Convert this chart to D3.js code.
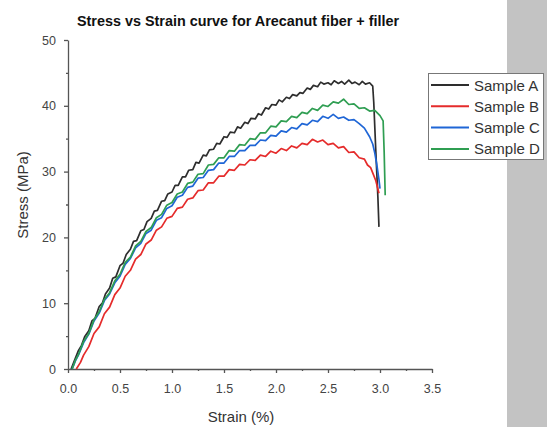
<!DOCTYPE html>
<html>
<head>
<meta charset="utf-8">
<script src="https://cdn.jsdelivr.net/npm/d3@7"></script>
<style>
  body { margin: 0; background: #fff; }
  svg { display: block; font-family: "Liberation Sans", Arial, sans-serif; }
</style>
</head>
<body>
<svg id="chart" width="553" height="427"></svg>
<script>
// data: [strain %, stress MPa]
var sampleA = [[0.03,0],[0.06,1.2],[0.1,2.8],[0.13,3.6],[0.16,4.9],[0.2,5.8],[0.23,7.3],[0.26,7.7],[0.3,9.5],[0.33,10.0],[0.36,11.4],[0.4,12.3],[0.43,13.8],[0.46,14.0],[0.5,15.7],[0.53,16.1],[0.56,17.4],[0.6,18.2],[0.63,19.4],[0.66,19.5],[0.7,21.0],[0.73,21.2],[0.76,22.4],[0.8,22.9],[0.83,24.0],[0.86,24.1],[0.9,25.5],[0.93,25.6],[0.96,26.6],[1.0,26.9],[1.03,27.9],[1.06,27.9],[1.1,29.2],[1.13,29.2],[1.16,30.2],[1.2,30.3],[1.23,31.4],[1.26,31.3],[1.3,32.5],[1.33,32.4],[1.36,33.3],[1.4,33.4],[1.43,34.3],[1.46,34.2],[1.5,35.3],[1.53,35.2],[1.56,36.0],[1.6,35.9],[1.63,36.8],[1.66,36.6],[1.7,37.5],[1.73,37.3],[1.76,38.1],[1.8,38.0],[1.83,38.8],[1.86,38.6],[1.9,39.7],[1.93,39.5],[1.96,40.2],[2.0,40.1],[2.03,40.9],[2.06,40.6],[2.1,41.3],[2.13,41.1],[2.16,41.7],[2.2,41.5],[2.23,42.0],[2.26,41.9],[2.3,42.7],[2.33,42.5],[2.36,43.1],[2.4,42.9],[2.43,43.6],[2.46,43.3],[2.5,43.5],[2.53,43.2],[2.56,43.8],[2.6,43.4],[2.63,43.7],[2.66,43.3],[2.7,43.9],[2.73,43.4],[2.76,43.6],[2.8,43.2],[2.83,43.7],[2.86,43.3],[2.9,43.5],[2.93,43.0],[2.94,40.5],[2.96,33.0],[2.98,26.0],[2.99,21.6]];

var sampleB = [[0.08,0],[0.12,1.0],[0.15,2.1],[0.2,3.4],[0.25,5.4],[0.3,6.4],[0.35,8.4],[0.4,9.4],[0.45,11.3],[0.5,12.3],[0.55,14.1],[0.6,15.0],[0.65,16.7],[0.7,17.4],[0.75,19.0],[0.8,19.6],[0.85,21.1],[0.9,21.6],[0.95,22.9],[1.0,23.2],[1.05,24.4],[1.1,24.6],[1.15,25.8],[1.2,26.0],[1.25,27.1],[1.3,27.2],[1.35,28.3],[1.4,28.3],[1.45,29.3],[1.5,29.3],[1.55,30.3],[1.6,30.2],[1.65,31.1],[1.7,31.0],[1.75,31.8],[1.8,31.7],[1.85,32.5],[1.9,32.3],[1.95,33.1],[2.0,32.8],[2.05,33.5],[2.1,33.2],[2.15,33.9],[2.2,33.6],[2.25,34.3],[2.3,34.1],[2.35,34.9],[2.4,34.5],[2.45,34.8],[2.5,34.1],[2.55,34.3],[2.6,33.6],[2.65,33.8],[2.7,32.9],[2.75,33.0],[2.8,32.1],[2.85,31.9],[2.88,31.0],[2.91,30.6],[2.93,29.8],[2.96,28.6],[2.99,26.7]];

var sampleC = [[0.04,0],[0.07,1.2],[0.1,2.1],[0.15,4.0],[0.2,5.3],[0.25,7.3],[0.3,8.5],[0.35,10.4],[0.4,11.4],[0.45,13.1],[0.5,14.1],[0.55,15.9],[0.6,16.8],[0.65,18.4],[0.7,19.1],[0.75,20.6],[0.8,21.1],[0.85,22.6],[0.9,23.0],[0.95,24.4],[1.0,24.8],[1.05,26.1],[1.1,26.4],[1.15,27.6],[1.2,27.8],[1.25,29.0],[1.3,29.1],[1.35,30.2],[1.4,30.3],[1.45,31.3],[1.5,31.3],[1.55,32.3],[1.6,32.3],[1.65,33.2],[1.7,33.2],[1.75,34.0],[1.8,34.0],[1.85,34.8],[1.9,34.7],[1.95,35.5],[2.0,35.4],[2.05,36.2],[2.1,36.0],[2.15,36.7],[2.2,36.5],[2.25,37.3],[2.3,37.1],[2.35,37.8],[2.4,37.6],[2.45,38.4],[2.5,38.1],[2.55,38.7],[2.6,38.1],[2.65,38.3],[2.7,37.8],[2.75,37.9],[2.8,37.3],[2.85,36.6],[2.9,35.3],[2.93,34.2],[2.95,32.8],[2.97,31.0],[2.99,28.8],[3.0,27.4]];

var sampleD = [[0.04,0],[0.07,1.3],[0.1,2.2],[0.15,4.2],[0.2,5.4],[0.25,7.5],[0.3,8.7],[0.35,10.6],[0.4,11.6],[0.45,13.4],[0.5,14.4],[0.55,16.2],[0.6,17.0],[0.65,18.7],[0.7,19.4],[0.75,20.9],[0.8,21.5],[0.85,23.0],[0.9,23.5],[0.95,24.9],[1.0,25.3],[1.05,26.6],[1.1,26.9],[1.15,28.2],[1.2,28.4],[1.25,29.6],[1.3,29.7],[1.35,31.0],[1.4,31.1],[1.45,32.1],[1.5,32.1],[1.55,33.2],[1.6,33.1],[1.65,34.1],[1.7,34.0],[1.75,35.0],[1.8,34.9],[1.85,35.9],[1.9,35.9],[1.95,36.9],[2.0,36.8],[2.05,37.7],[2.1,37.6],[2.15,38.4],[2.2,38.2],[2.25,39.0],[2.3,38.8],[2.35,39.6],[2.4,39.3],[2.45,40.1],[2.5,39.9],[2.55,40.6],[2.6,40.4],[2.65,41.0],[2.7,40.2],[2.75,40.3],[2.8,39.6],[2.85,39.7],[2.9,39.2],[2.95,39.3],[3.0,38.5],[3.03,37.7],[3.04,33.0],[3.05,26.4]];

var sampleNames = ["Sample A", "Sample B", "Sample C", "Sample D"];
var sampleColors = ["#2e2e2e", "#e52b2b", "#1f66d6", "#2f9e52"];
var xTicks = [0, 0.5, 1.0, 1.5, 2.0, 2.5, 3.0, 3.5];
var xMinor = [0.25, 0.75, 1.25, 1.75, 2.25, 2.75, 3.25];
var yTicks = [0, 10, 20, 30, 40, 50];
var yMinor = [5, 15, 25, 35, 45];

var series = [sampleA, sampleB, sampleC, sampleD];

var svg = d3.select("#chart");

// gray strip at the right edge of the original figure
svg.append("rect")
    .attr("x", 507).attr("y", 0)
    .attr("width", 40).attr("height", 427)
    .attr("fill", "#c3c3c3");

var x = d3.scaleLinear().domain([0, 3.5]).range([68, 432]);
var y = d3.scaleLinear().domain([0, 50]).range([369, 40]);

var axisColor = "#555";

// x axis
var gx = svg.append("g")
    .attr("transform", "translate(0,369)")
    .call(d3.axisBottom(x).tickValues(xTicks).tickFormat(d3.format(".1f")).tickSize(4).tickSizeOuter(0));
svg.append("g")
    .attr("transform", "translate(0,369)")
    .call(d3.axisBottom(x).tickValues(xMinor).tickFormat("").tickSize(2).tickSizeOuter(0))
    .select(".domain").remove();

// y axis
var gy = svg.append("g")
    .attr("transform", "translate(68,0)")
    .call(d3.axisLeft(y).tickValues(yTicks).tickSize(4).tickSizeOuter(0));
svg.append("g")
    .attr("transform", "translate(68,0)")
    .call(d3.axisLeft(y).tickValues(yMinor).tickFormat("").tickSize(2).tickSizeOuter(0))
    .select(".domain").remove();

svg.selectAll(".domain, .tick line").attr("stroke", axisColor).attr("stroke-width", 1.3);
gx.selectAll(".tick text").attr("font-size", 12.5).attr("fill", "#444").attr("dy", "1.35em")
    .attr("font-family", "Liberation Sans, Arial, sans-serif");
gy.selectAll(".tick text").attr("font-size", 12.5).attr("fill", "#444").attr("dx", "-0.4em")
    .attr("font-family", "Liberation Sans, Arial, sans-serif");

// curves
var line = d3.line()
    .x(function(d) { return x(d[0]); })
    .y(function(d) { return y(d[1]); });

series.forEach(function(s, i) {
    svg.append("path")
        .datum(s)
        .attr("d", line)
        .attr("fill", "none")
        .attr("stroke", sampleColors[i])
        .attr("stroke-width", 1.7)
        .attr("stroke-linejoin", "round");
});

// title and labels
svg.append("text")
    .attr("x", 238).attr("y", 26)
    .attr("text-anchor", "middle")
    .attr("font-size", 14.4).attr("font-weight", "bold").attr("fill", "#111")
    .text("Stress vs Strain curve for Arecanut fiber + filler");

svg.append("text")
    .attr("x", 241).attr("y", 422)
    .attr("text-anchor", "middle")
    .attr("font-size", 15).attr("fill", "#333")
    .text("Strain (%)");

svg.append("text")
    .attr("transform", "translate(28,195) rotate(-90)")
    .attr("text-anchor", "middle")
    .attr("font-size", 15).attr("fill", "#333")
    .text("Stress (MPa)");

// legend
var legend = svg.append("g");
legend.append("rect")
    .attr("x", 428.5).attr("y", 73.5)
    .attr("width", 115).attr("height", 86)
    .attr("fill", "#fff").attr("stroke", "#777").attr("stroke-width", 1);

sampleNames.forEach(function(name, i) {
    var ly = 85 + i * 21.3;
    legend.append("line")
        .attr("x1", 431).attr("x2", 469)
        .attr("y1", ly).attr("y2", ly)
        .attr("stroke", sampleColors[i]).attr("stroke-width", 2);
    legend.append("text")
        .attr("x", 474).attr("y", ly + 5.5)
        .attr("font-size", 15).attr("fill", "#333")
        .text(name);
});
</script>
</body>
</html>
